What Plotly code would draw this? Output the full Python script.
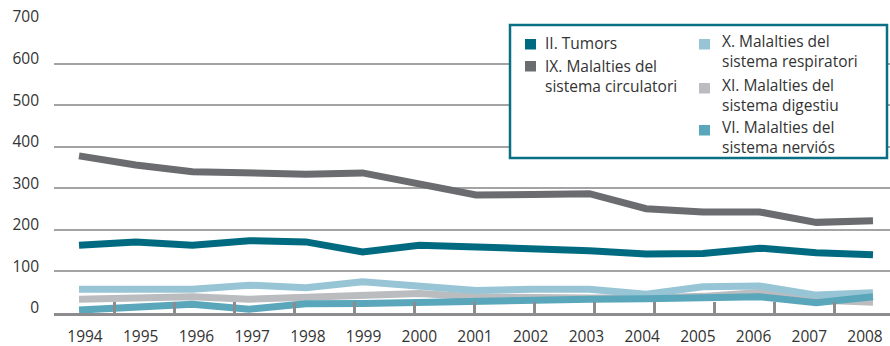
import plotly.graph_objects as go

# Years on the horizontal axis
years = list(range(1994, 2009))

# Deaths per cause group (values per year)
tumors = [163, 171, 163, 174, 171, 147, 163, 159, 157, 150, 142, 143, 156, 145, 140]
circulatori = [378, 356, 340, 337, 334, 337, 311, 284, 285, 287, 251, 243, 243, 218, 222]
respiratori = [57, 58, 57, 67, 61, 75, 65, 54, 57, 57, 45, 63, 65, 43, 49]
digestiu = [33, 35, 39, 33, 38, 39, 47, 39, 36, 36, 36, 40, 49, 31, 26]
nervios = [7, 15, 21, 9, 22, 23, 26, 31, 33, 33, 34, 35, 39, 25, 39]

y_ticks = [0, 100, 200, 300, 400, 500, 600, 700]

# (name lines, values, colour), drawn bottom to top
series = [
    (["IX. Malalties del", "sistema circulatori"], circulatori, "#6b6c70"),
    (["II. Tumors"], tumors, "#006b80"),
    (["XI. Malalties del", "sistema digestiu"], digestiu, "#bbbcbf"),
    (["X. Malalties del", "sistema respiratori"], respiratori, "#97c5d5"),
    (["VI. Malalties del", "sistema nerviós"], nervios, "#5aa6bb"),
]

FONT = "Open Sans"
TEXT = "#333333"
AXIS = "#8c8c8e"
W, H = 890, 346
ML, MR, MT, MB = 54, 0, 22, 33
PW, PH = W - ML - MR, H - MT - MB
LEG_SIZE = 15.5

fig = go.Figure()
for names, vals, col in series:
    fig.add_trace(go.Scatter(
        x=years, y=vals, mode="lines", name=" ".join(names),
        line=dict(color=col, width=7), showlegend=False, hoverinfo="skip",
    ))

# empty traces so the label axis and the tick-mark axis get drawn
fig.add_trace(go.Scatter(x=[], y=[], xaxis="x2", showlegend=False, hoverinfo="skip"))
fig.add_trace(go.Scatter(x=[], y=[], xaxis="x3", showlegend=False, hoverinfo="skip"))


def px(x):
    return (x - ML) / PW


def py(y):
    return (H - MB - y) / PH


shapes = []
annotations = []

# legend frame
shapes.append(dict(type="rect", xref="paper", yref="paper",
                   x0=px(510), x1=px(887), y0=py(158), y1=py(25),
                   line=dict(color="#0a6f85", width=2.5), fillcolor="white",
                   layer="above"))

# legend entries: (series index, square left, square top, text left, mid baseline)
legend_rows = [
    (1, 525, 39, 545, 49),
    (0, 525, 61, 545, 82.5),
    (3, 699, 39, 722, 57.5),
    (2, 699, 83, 722, 101.3),
    (4, 699, 125, 722, 143.3),
]
for idx, sx, sy, tx, mid in legend_rows:
    names, _, col = series[idx]
    shapes.append(dict(type="rect", xref="paper", yref="paper",
                       x0=px(sx), x1=px(sx + 11), y0=py(sy + 10.5), y1=py(sy),
                       line=dict(width=0), fillcolor=col, layer="above"))
    annotations.append(dict(
        xref="paper", yref="paper", x=px(tx - 2), y=py(mid - 0.39 * LEG_SIZE),
        xanchor="left", yanchor="middle", align="left", showarrow=False,
        text="<br>".join(names), font=dict(family=FONT, size=LEG_SIZE, color=TEXT),
    ))

fig.update_layout(
    width=W, height=H,
    margin=dict(l=ML, r=MR, t=MT, b=MB, pad=0),
    paper_bgcolor="white", plot_bgcolor="white",
    showlegend=False,
    shapes=shapes, annotations=annotations,
    xaxis=dict(
        range=[1993.559, 2008.30], showticklabels=False, ticks="",
        showgrid=False, zeroline=False, showline=True,
        linewidth=3, linecolor=AXIS, fixedrange=True, automargin=False,
    ),
    xaxis2=dict(
        overlaying="x", anchor="y", side="bottom",
        range=[1993.4435, 2008.4487], tickvals=years,
        ticktext=[str(y) for y in years], ticks="",
        showgrid=False, zeroline=False, showline=False,
        tickfont=dict(family=FONT, size=15.5, color=TEXT),
        ticklabelstandoff=12, fixedrange=True, automargin=False,
    ),
    xaxis3=dict(
        overlaying="x", anchor="y", side="bottom",
        range=[-0.5, PW - 0.5], tickvals=list(range(0, PW, 60)),
        showticklabels=False, ticks="inside", ticklen=11, tickwidth=2.5,
        tickcolor=AXIS, showgrid=False, zeroline=False, showline=False,
        fixedrange=True, automargin=False,
    ),
    yaxis=dict(
        range=[0, 700], tickvals=y_ticks, ticktext=[str(v) for v in y_ticks],
        showgrid=True, gridcolor="#a3a3a3", gridwidth=1.5,
        zeroline=False, showline=False, ticks="",
        tickfont=dict(family=FONT, size=15.5, color=TEXT),
        ticklabelstandoff=14, ticklabelshift=-5, fixedrange=True,
        automargin=False,
    ),
)

fig.write_html("out.html")
